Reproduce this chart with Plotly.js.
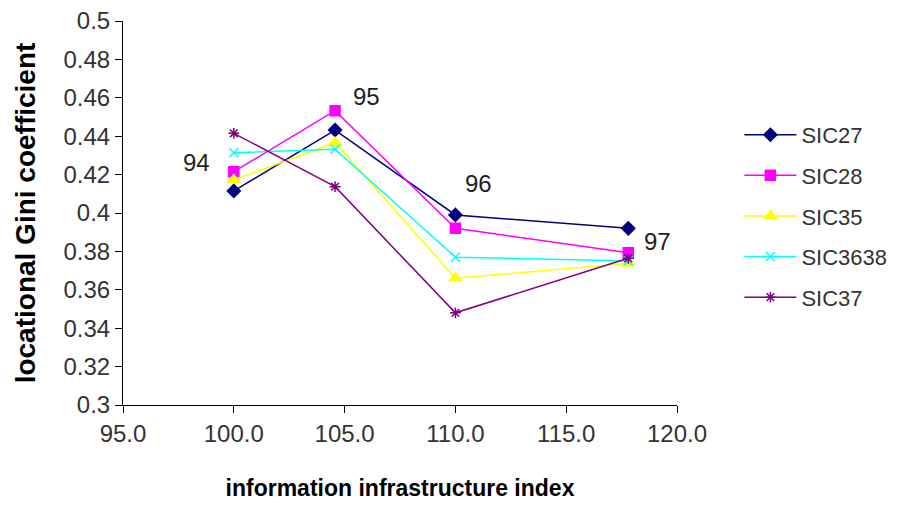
<!DOCTYPE html>
<html>
<head>
<meta charset="utf-8">
<script src="https://cdn.plot.ly/plotly-3.0.1.min.js"></script>
<style>
  html, body { margin: 0; padding: 0; background: #ffffff; }
  #chart { width: 906px; height: 506px; }
</style>
</head>
<body>
<div id="chart"></div>
<script>
// Information infrastructure index for each year (94..97)
const infraIndex = [100.0, 104.57, 110.0, 117.8];
const yearLabels = ['94', '95', '96', '97'];

// Locational Gini coefficient per industry group
const sic27   = [0.4115, 0.4432, 0.399, 0.392];
const sic28   = [0.4215, 0.4533, 0.392, 0.3793];
const sic35   = [0.4172, 0.4366, 0.366, 0.3738];
const sic3638 = [0.4314, 0.4332, 0.377, 0.375];
const sic37   = [0.4415, 0.4137, 0.348, 0.3764];

const seriesNames = ['SIC27', 'SIC28', 'SIC35', 'SIC3638', 'SIC37'];
const seriesValues = [sic27, sic28, sic35, sic3638, sic37];
const seriesColors = ['#000080', '#ff00ff', '#ffff00', '#00ffff', '#800080'];
const seriesSymbols = ['diamond', 'square', 'triangle-up', 'x-thin-open', 'asterisk-open'];
const seriesSizes = [10, 10, 11, 9, 9];

const FONT = '"Liberation Sans", Arial, sans-serif';

const traces = seriesNames.map((name, i) => ({
  type: 'scatter',
  mode: 'lines+markers',
  name: name,
  legendgroup: name,
  x: infraIndex,
  y: seriesValues[i],
  line: { color: seriesColors[i], width: 1.5 },
  marker: {
    symbol: seriesSymbols[i],
    size: seriesSizes[i],
    color: seriesColors[i],
    line: { color: seriesColors[i], width: 1.5 }
  }
}));

// Year labels placed beside the point each one belongs to
const labelAnchorY = [sic28[0], sic28[1], sic27[2], sic28[3]];
const labelShift = [[-37, 9], [31, 14], [23, 31], [29, 11]];
const annotations = yearLabels.map((t, i) => ({
  text: t,
  x: infraIndex[i],
  y: labelAnchorY[i],
  xref: 'x', yref: 'y',
  showarrow: false,
  xshift: labelShift[i][0],
  yshift: labelShift[i][1],
  font: { family: FONT, size: 24, color: '#222' }
}));

const tickFont = { family: FONT, size: 24, color: '#333' };

const layout = {
  width: 906,
  height: 506,
  paper_bgcolor: '#ffffff',
  plot_bgcolor: '#ffffff',
  margin: { l: 123, r: 229, t: 21, b: 101 },
  showlegend: true,
  legend: {
    x: 1.1126, xanchor: 'left',
    y: 0.758, yanchor: 'top',
    font: { family: FONT, size: 22, color: '#333' },
    tracegroupgap: 9,
    itemwidth: 52
  },
  xaxis: {
    range: [95, 120],
    dtick: 5,
    tick0: 95,
    tickformat: '.1f',
    showgrid: false,
    zeroline: false,
    showline: true,
    linecolor: '#000',
    linewidth: 1,
    ticks: 'outside',
    ticklen: 7,
    tickcolor: '#000',
    tickfont: tickFont,
    title: {
      text: 'information infrastructure index',
      font: { family: FONT, size: 23, color: '#000', weight: 'bold' },
      standoff: 34
    }
  },
  yaxis: {
    range: [0.3, 0.5],
    dtick: 0.02,
    tick0: 0.3,
    showgrid: false,
    zeroline: false,
    showline: true,
    linecolor: '#000',
    linewidth: 1,
    ticks: 'outside',
    ticklen: 7,
    tickcolor: '#000',
    tickfont: tickFont,
    title: {
      text: 'locational Gini coefficient',
      font: { family: FONT, size: 28, color: '#000', weight: 'bold' },
      standoff: 19
    }
  },
  annotations: annotations
};

Plotly.newPlot('chart', traces, layout, { displayModeBar: false, staticPlot: true });
</script>
</body>
</html>
